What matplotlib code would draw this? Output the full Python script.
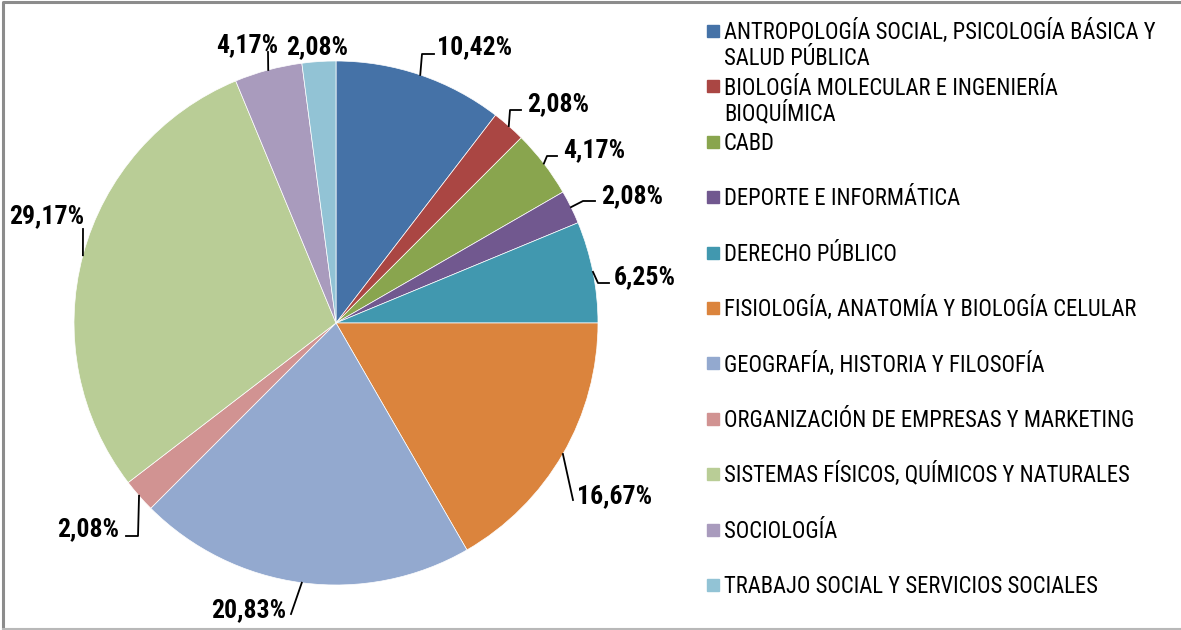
import textwrap
import numpy as np
import matplotlib.pyplot as plt

plt.rcParams['font.family'] = ['Roboto Condensed', 'Liberation Sans Narrow', 'DejaVu Sans']

departments = [
    "ANTROPOLOGÍA SOCIAL, PSICOLOGÍA BÁSICA Y SALUD PÚBLICA",
    "BIOLOGÍA MOLECULAR E INGENIERÍA BIOQUÍMICA",
    "CABD",
    "DEPORTE E INFORMÁTICA",
    "DERECHO PÚBLICO",
    "FISIOLOGÍA, ANATOMÍA Y BIOLOGÍA CELULAR",
    "GEOGRAFÍA, HISTORIA Y FILOSOFÍA",
    "ORGANIZACIÓN DE EMPRESAS Y MARKETING",
    "SISTEMAS FÍSICOS, QUÍMICOS Y NATURALES",
    "SOCIOLOGÍA",
    "TRABAJO SOCIAL Y SERVICIOS SOCIALES",
]
shares = [10.42, 2.08, 4.17, 2.08, 6.25, 16.67, 20.83, 2.08, 29.17, 4.17, 2.08]
colors = ['#4572A7', '#AA4643', '#89A54E', '#71588F', '#4198AF', '#DB843D',
          '#93A9CF', '#D19392', '#B9CD96', '#A99BBD', '#92C3D5']

W, H = 1181, 630
cx, cy, r = 336, 323, 262  # pixels, y from top

# percentage label placement (x, y from top, ha) and leader bend points
label_pos = [(437, 45, 'left'), (527, 102, 'left'), (563, 148, 'left'),
             (601, 194, 'left'), (614, 275, 'left'), (577, 494, 'left'),
             (286, 608, 'right'), (119, 527, 'right'), (47, 214, 'center'),
             (247, 43, 'center'), (317, 45, 'center')]
leader_bends = [[(422, 54), (434, 54)], [(510, 110), (521, 110)],
                [(547, 156), (557, 156)], [(583, 201), (595, 201)],
                [(598, 283), (609, 283)], [(573, 500)], [(291, 614)],
                [(138, 536), (126, 536)], [(83, 229)], [(268, 52)], []]

fig = plt.figure(figsize=(W / 100, H / 100), dpi=100)
ax = fig.add_axes([0, 0, 1, 1])

wedges, _ = ax.pie(shares, colors=colors, startangle=90, counterclock=False,
                   center=(cx, H - cy), radius=r,
                   wedgeprops=dict(edgecolor='white', linewidth=0.5))
ax.set_xlim(0, W)
ax.set_ylim(0, H)
ax.set_aspect('equal')
ax.axis('off')

lab_fs = 18.5
lab_px = lab_fs * 100 / 72
for w, v, (tx, ty, ha), bends in zip(wedges, shares, label_pos, leader_bends):
    if bends:
        th = np.deg2rad((w.theta1 + w.theta2) / 2)
        xs = [cx + r * np.cos(th)] + [b[0] for b in bends]
        ys = [H - cy + r * np.sin(th)] + [H - b[1] for b in bends]
        ax.plot(xs, ys, color='black', lw=1.3)
    ax.text(tx, H - ty - 0.36 * lab_px, f"{v:.2f}%".replace('.', ','),
            ha=ha, va='baseline', fontsize=lab_fs, fontweight='bold')

# legend
leg_fs = 16.3
leg_px = leg_fs * 100 / 72
for i, (name, c) in enumerate(zip(departments, colors)):
    y0 = 31 + i * 55.4
    ax.add_patch(plt.Rectangle((707, H - y0 - 6), 12, 12, color=c))
    for j, line in enumerate(textwrap.wrap(name, 40)):
        ax.text(724, H - (y0 + j * 25.5) - 0.36 * leg_px, line,
                ha='left', va='baseline', fontsize=leg_fs)

# chart frame
ax.plot([2.5, 2.5, W], [0, H - 1.5, H - 1.5], color='#8c8c8c', lw=2.2, clip_on=False)
ax.plot([2.5, W], [1, 1], color='#b8b8b8', lw=1.5, clip_on=False)

fig.savefig('out.png', dpi=100)
